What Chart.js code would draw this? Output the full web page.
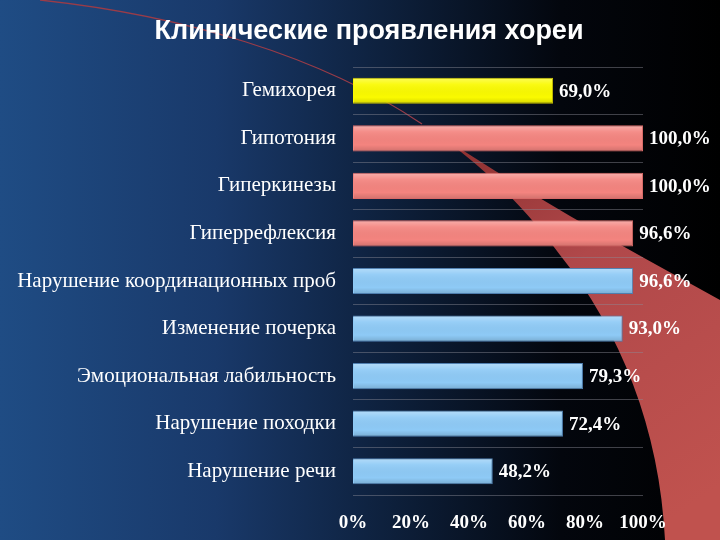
<!DOCTYPE html>
<html>
<head>
<meta charset="utf-8">
<script src="https://cdn.jsdelivr.net/npm/chart.js@4"></script>
<style>
    body { margin: 0; background: #000; }
    #chart { display: block; }
</style>
</head>
<body>
<canvas id="chart" width="720" height="540"></canvas>
<script>
// chart data
var chartTitle = 'Клинические проявления хореи';
var categories = ['Гемихорея', 'Гипотония', 'Гиперкинезы', 'Гиперрефлексия',
    'Нарушение координационных проб', 'Изменение почерка',
    'Эмоциональная лабильность', 'Нарушение походки', 'Нарушение речи'];
var percentValues = [69.0, 100.0, 100.0, 96.6, 96.6, 93.0, 79.3, 72.4, 48.2];
var groupOf = ['yellow', 'red', 'red', 'red', 'blue', 'blue', 'blue', 'blue', 'blue'];
var tickValues = [0, 20, 40, 60, 80, 100];

var fills = { yellow: '#fafa00', red: '#f4847f', blue: '#8ecaf6' };
var edges = { yellow: '#c8c000', red: '#d86a68', blue: '#4f7fb0' };

var serif = '"Liberation Serif", "Times New Roman", serif';

// background + red swoosh
var backdrop = {
    id: 'backdrop',
    beforeDraw: function (chart) {
        var ctx = chart.ctx;
        var w = chart.width, h = chart.height;
        ctx.save();
        var g = ctx.createLinearGradient(0, 0, w, 0);
        g.addColorStop(0, '#1f4c84');
        g.addColorStop(0.3, '#19396a');
        g.addColorStop(0.55, '#0d1f3a');
        g.addColorStop(0.78, '#03060d');
        g.addColorStop(1, '#000000');
        ctx.fillStyle = g;
        ctx.fillRect(0, 0, w, h);

        // band
        ctx.beginPath();
        ctx.moveTo(420, 122);
        ctx.bezierCurveTo(520, 190, 620, 245, 720, 300);
        ctx.lineTo(720, 540);
        ctx.lineTo(665, 540);
        ctx.bezierCurveTo(660, 430, 620, 330, 560, 255);
        ctx.bezierCurveTo(520, 200, 470, 155, 420, 122);
        ctx.closePath();
        var rg = ctx.createLinearGradient(450, 130, 700, 500);
        rg.addColorStop(0, '#8a2e2e');
        rg.addColorStop(0.4, '#b0484a');
        rg.addColorStop(1, '#c0524e');
        ctx.fillStyle = rg;
        ctx.fill();

        // thin line
        ctx.beginPath();
        ctx.moveTo(40, 0);
        ctx.bezierCurveTo(180, 15, 320, 55, 422, 124);
        ctx.strokeStyle = '#9a3c48';
        ctx.lineWidth = 1.3;
        ctx.stroke();
        ctx.restore();
    }
};

// title
var titleText = {
    id: 'titleText',
    afterDraw: function (chart) {
        var ctx = chart.ctx;
        ctx.save();
        ctx.fillStyle = '#ffffff';
        ctx.font = 'bold 27px "Liberation Sans", Arial, sans-serif';
        ctx.textAlign = 'center';
        ctx.textBaseline = 'alphabetic';
        ctx.fillText(chartTitle, 369, 39);
        ctx.restore();
    }
};

// bevel highlight + value labels
var barExtras = {
    id: 'barExtras',
    afterDatasetsDraw: function (chart) {
        var ctx = chart.ctx;
        var meta = chart.getDatasetMeta(0);
        ctx.save();
        meta.data.forEach(function (bar, i) {
            var top = bar.y - bar.height / 2;
            var left = bar.base;
            var hl = ctx.createLinearGradient(0, top, 0, top + bar.height);
            hl.addColorStop(0, 'rgba(255,255,255,0.35)');
            hl.addColorStop(0.25, 'rgba(255,255,255,0.08)');
            hl.addColorStop(0.75, 'rgba(0,0,0,0)');
            hl.addColorStop(1, 'rgba(0,0,0,0.15)');
            ctx.fillStyle = hl;
            ctx.fillRect(left + 1, top + 1, bar.x - left - 2, bar.height - 2);

            ctx.fillStyle = '#ffffff';
            ctx.font = 'bold 19px ' + serif;
            ctx.textAlign = 'left';
            ctx.textBaseline = 'middle';
            var txt = percentValues[i].toFixed(1).replace('.', ',') + '%';
            ctx.fillText(txt, bar.x + 6, bar.y + 1);
        });
        ctx.restore();
    }
};

var ctx = document.getElementById('chart').getContext('2d');
var chart = new Chart(ctx, {
    type: 'bar',
    data: {
        labels: categories,
        datasets: [{
            data: percentValues,
            backgroundColor: groupOf.map(function (k) { return fills[k]; }),
            borderColor: groupOf.map(function (k) { return edges[k]; }),
            borderWidth: 1,
            barPercentage: 0.55,
            categoryPercentage: 1
        }]
    },
    options: {
        indexAxis: 'y',
        responsive: false,
        devicePixelRatio: 1,
        animation: false,
        layout: { padding: { top: 67, right: 77, bottom: 0, left: 0 } },
        plugins: {
            legend: { display: false },
            tooltip: { enabled: false }
        },
        scales: {
            x: {
                min: 0,
                max: 100,
                afterFit: function (scale) { scale.height = 45; },
                afterBuildTicks: function (scale) {
                    scale.ticks = tickValues.map(function (v) { return { value: v }; });
                },
                grid: { display: false },
                border: { display: false },
                ticks: {
                    color: '#ffffff',
                    padding: 9,
                    font: { family: serif, size: 19, weight: 'bold' },
                    callback: function (v) { return v + '%'; }
                }
            },
            y: {
                afterFit: function (scale) { scale.width = 353; },
                grid: {
                    color: 'rgba(140,140,150,0.45)',
                    drawTicks: false,
                    lineWidth: 1
                },
                border: { display: false },
                ticks: {
                    color: '#ffffff',
                    padding: 17,
                    font: { family: serif, size: 21 }
                }
            }
        }
    },
    plugins: [backdrop, titleText, barExtras]
});
</script>
</body>
</html>
